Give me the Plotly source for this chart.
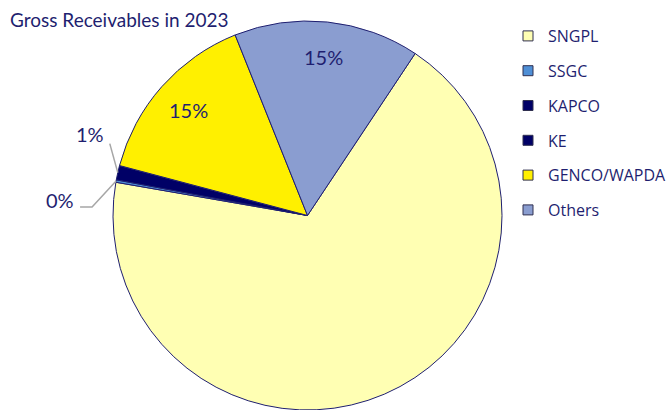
import math
import plotly.graph_objects as go

categories = ["SNGPL", "SSGC", "KAPCO", "KE", "GENCO/WAPDA", "Others"]
shares = [68.4, 0.2, 1.2, 0.0, 14.8, 15.4]
slice_labels = ["", "0%", "1%", "", "15%", "15%"]
colors = ["#FFFFB3", "#4F8FD6", "#000066", "#000066", "#FFF000", "#8A9DD0"]

NAVY = "#1F1F70"
W, H = 671, 410
CX, CY, R = 307.5, 215.5, 194.5   # pie centre / radius in pixels
ROT = 33.6                         # first slice angle (deg, clockwise from 12 o'clock)

fig = go.Figure()
fig.add_trace(go.Pie(
    labels=categories,
    values=shares,
    textinfo="none",
    sort=False,
    direction="clockwise",
    rotation=ROT,
    showlegend=False,
    marker=dict(colors=colors, line=dict(color=NAVY, width=1)),
    domain=dict(x=[(CX - R) / W, (CX + R) / W],
                y=[max(0.0, (H - CY - R) / H), min(1.0, (H - CY + R) / H)]),
    hoverinfo="label+percent",
))

# legend entries (one per category, so they can be spaced like the original)
for name, col in zip(categories, colors):
    fig.add_trace(go.Scatter(
        x=[None], y=[None], mode="markers", name=name, legendgroup=name,
        marker=dict(symbol="square", size=10, color=col, line=dict(color="#303050", width=1)),
        hoverinfo="skip",
    ))

# label positions derived from the slice angles
total = sum(shares)
start = ROT
annotations = []
shapes = []
outside = {"1%": dict(label=(-28, -39), path=[(0, 0), (-8, -29)]),
           "0%": dict(label=(-56, 19), path=[(0, 0), (-24, 26), (-36, 26)])}


def px(x, y):
    return x / W, 1 - y / H


lab_font = dict(family="Lato", size=20, color=NAVY)
for lab, v in zip(slice_labels, shares):
    span = v / total * 360
    mid = math.radians(start + span / 2)
    start += span
    if not lab:
        continue
    if lab in outside:
        ex = CX + R * math.sin(mid)
        ey = CY - R * math.cos(mid)
        o = outside[lab]
        lx, ly = px(ex + o["label"][0], ey + o["label"][1])
        pts = [px(ex + dx, ey + dy) for dx, dy in o["path"]]
        d = "M " + " L ".join(f"{a},{b}" for a, b in pts)
        shapes.append(dict(type="path", path=d, xref="paper", yref="paper",
                           line=dict(color="#A6A6A6", width=1.5)))
    else:
        lx, ly = px(CX + 0.82 * R * math.sin(mid), CY - 0.82 * R * math.cos(mid))
    annotations.append(dict(x=lx, y=ly, xref="paper", yref="paper", text=lab,
                            xanchor="center", yanchor="middle",
                            showarrow=False, font=lab_font))

fig.update_layout(
    width=W, height=H,
    margin=dict(l=0, r=0, t=0, b=0, autoexpand=False),
    paper_bgcolor="white",
    plot_bgcolor="rgba(0,0,0,0)",
    font=dict(family="Lato", color=NAVY),
    xaxis=dict(visible=False),
    yaxis=dict(visible=False),
    title=dict(text="Gross Receivables in 2023", x=10 / W, xanchor="left",
               y=1 - 20 / H, yanchor="middle",
               font=dict(family="Lato", size=19, color=NAVY)),
    legend=dict(x=508 / W, xanchor="left", y=1 - 19 / H, yanchor="top",
                font=dict(family="Open Sans", size=16, color=NAVY),
                tracegroupgap=11, bgcolor="rgba(0,0,0,0)"),
    annotations=annotations,
    shapes=shapes,
    showlegend=True,
)

fig.write_html("out.html")
